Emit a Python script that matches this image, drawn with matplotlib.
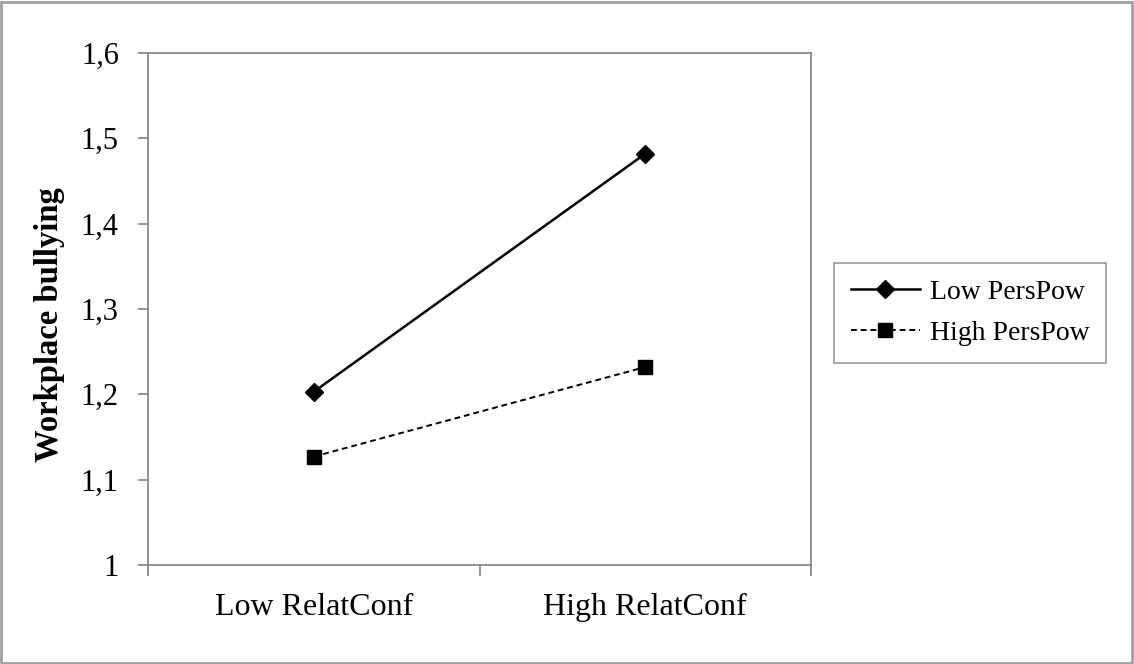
import matplotlib.pyplot as plt
from matplotlib.patches import Rectangle

plt.rcParams['font.family'] = ['Liberation Serif', 'DejaVu Serif']

categories = ['Low RelatConf', 'High RelatConf']
low_perspow = [1.203, 1.482]
high_perspow = [1.127, 1.232]
yticks = [1.0, 1.1, 1.2, 1.3, 1.4, 1.5, 1.6]
ytick_labels = ['1', '1,1', '1,2', '1,3', '1,4', '1,5', '1,6']

fig = plt.figure(figsize=(11.34, 6.64), dpi=100)
ax = fig.add_axes([0.1305, 0.1491, 0.5847, 0.7711])

xpos = [0.5, 1.5]
ax.plot(xpos, low_perspow, color='black', linewidth=1.8, marker='D',
        markersize=9, label='Low PersPow')
ax.plot(xpos, high_perspow, color='black', linewidth=1.4, linestyle=(0, (3, 2)),
        marker='s', markersize=10, label='High PersPow')

ax.set_xlim(0, 2)
ax.set_ylim(1.0, 1.6)
ax.set_xticks([0, 1, 2])
ax.set_xticklabels([])
ax.set_xticks(xpos, minor=True)
ax.set_xticklabels(categories, minor=True, fontsize=23)
ax.tick_params(axis='x', which='minor', length=0, pad=20)
ax.tick_params(axis='x', which='major', direction='out', length=8,
               color='#808080', width=1.2)
ax.set_yticks(yticks)
ax.set_yticklabels(ytick_labels, fontsize=22)
ax.tick_params(axis='y', direction='out', length=7, color='#808080', width=1.2, pad=14)

for s in ax.spines.values():
    s.set_color('#808080')
    s.set_linewidth(1.2)

ax.set_ylabel('Workplace bullying', fontsize=23.5, fontweight='bold')
ax.yaxis.set_label_coords(-0.125, 0.469)

leg = ax.legend(loc='upper left', bbox_to_anchor=(0.7354, 0.6039),
                bbox_transform=fig.transFigure, fontsize=20,
                frameon=True, fancybox=False, edgecolor='#808080',
                handlelength=2.5, borderpad=0.6, labelspacing=0.55,
                handletextpad=0.35, borderaxespad=0)
leg.get_frame().set_linewidth(1.2)

fig.patches.append(Rectangle((0.001, 0.002), 0.997, 0.995, transform=fig.transFigure,
                             fill=False, edgecolor='#a0a0a0', linewidth=2))

fig.savefig('out.png', dpi=100)
